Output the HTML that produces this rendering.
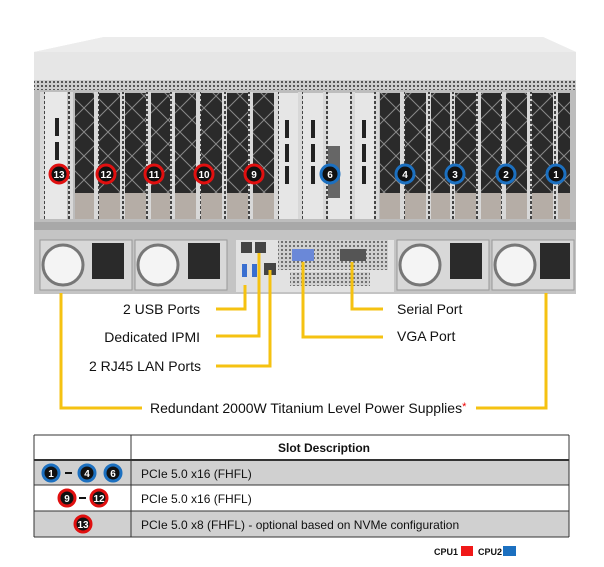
<!DOCTYPE html>
<html><head><meta charset="utf-8"><style>
body{margin:0;width:604px;height:562px;background:#fff;overflow:hidden;font-family:"Liberation Sans",Arial,sans-serif}
</style></head><body>
<svg width="604" height="562" viewBox="0 0 604 562" xmlns="http://www.w3.org/2000/svg" font-family="Liberation Sans, Arial, sans-serif">
<defs>
<pattern id="grill" width="4" height="4" patternUnits="userSpaceOnUse"><rect width="4" height="4" fill="#ccc"/><rect x="1" y="1" width="2" height="2" fill="#555"/></pattern>
<pattern id="rail" width="6" height="5" patternUnits="userSpaceOnUse"><rect width="6" height="5" fill="#d8d8d8"/><rect x="2" y="1" width="2" height="3" fill="#444"/></pattern>
<pattern id="mesh" width="24" height="24" patternUnits="userSpaceOnUse"><rect width="24" height="24" fill="#2a2a2a"/><path d="M0 0L24 24M24 0L0 24" stroke="#888" stroke-width="1"/></pattern>
</defs>
<polygon points="104,37 543,37 576,52 576,80 34,80 34,52" fill="#e6e6e6"/>
<polygon points="104,37 543,37 576,52 34,52" fill="#ececec"/>
<rect x="34" y="80" width="542" height="10" fill="url(#grill)"/>
<rect x="34" y="90" width="542" height="140" fill="#bdbdbd"/>
<g>
<rect x="45" y="92" width="22" height="127" fill="#e8e8e8"/>
<rect x="75" y="93" width="200" height="100" fill="url(#mesh)"/>
<rect x="75" y="193" width="200" height="26" fill="#b5ada6"/>
<rect x="380" y="93" width="190" height="100" fill="url(#mesh)"/>
<rect x="380" y="193" width="190" height="26" fill="#b5ada6"/>
<rect x="278" y="93" width="100" height="126" fill="#e6e6e6"/>
<rect x="326" y="146" width="14" height="52" fill="#666"/>
</g>
<g fill="url(#rail)">
<rect x="40" y="92" width="5" height="127"/><rect x="68" y="92" width="5" height="127"/>
<rect x="94" y="92" width="5" height="127"/><rect x="120" y="92" width="5" height="127"/>
<rect x="146" y="92" width="5" height="127"/><rect x="170" y="92" width="5" height="127"/>
<rect x="196" y="92" width="5" height="127"/><rect x="222" y="92" width="5" height="127"/>
<rect x="248" y="92" width="5" height="127"/><rect x="274" y="92" width="5" height="127"/>
<rect x="298" y="92" width="5" height="127"/><rect x="323" y="92" width="5" height="127"/>
<rect x="350" y="92" width="5" height="127"/><rect x="374" y="92" width="5" height="127"/>
<rect x="400" y="92" width="5" height="127"/><rect x="426" y="92" width="5" height="127"/>
<rect x="450" y="92" width="5" height="127"/><rect x="476" y="92" width="5" height="127"/>
<rect x="501" y="92" width="5" height="127"/><rect x="527" y="92" width="5" height="127"/>
<rect x="553" y="92" width="5" height="127"/>
</g>
<g fill="#222"><rect x="55" y="118" width="4" height="18"/><rect x="55" y="142" width="4" height="18"/>
<rect x="285" y="120" width="4" height="18"/><rect x="285" y="144" width="4" height="18"/><rect x="285" y="166" width="4" height="18"/>
<rect x="311" y="120" width="4" height="18"/><rect x="311" y="144" width="4" height="18"/><rect x="311" y="166" width="4" height="18"/>
<rect x="362" y="120" width="4" height="18"/><rect x="362" y="144" width="4" height="18"/><rect x="362" y="166" width="4" height="18"/></g>
<rect x="34" y="222" width="542" height="8" fill="#a8a8a8"/>
<rect x="34" y="230" width="542" height="64" fill="#c4c4c4"/>
<g>
<rect x="40" y="240" width="92" height="50" fill="#d8d8d8" stroke="#999"/>
<circle cx="63" cy="265" r="20" fill="#f4f4f4" stroke="#777" stroke-width="3"/>
<rect x="92" y="243" width="32" height="36" fill="#2a2a2a"/>
<rect x="135" y="240" width="92" height="50" fill="#d8d8d8" stroke="#999"/>
<circle cx="158" cy="265" r="20" fill="#f4f4f4" stroke="#777" stroke-width="3"/>
<rect x="188" y="243" width="32" height="36" fill="#2a2a2a"/>
<rect x="397" y="240" width="92" height="50" fill="#d8d8d8" stroke="#999"/>
<circle cx="420" cy="265" r="20" fill="#f4f4f4" stroke="#777" stroke-width="3"/>
<rect x="450" y="243" width="32" height="36" fill="#2a2a2a"/>
<rect x="492" y="240" width="82" height="50" fill="#d8d8d8" stroke="#999"/>
<circle cx="515" cy="265" r="20" fill="#f4f4f4" stroke="#777" stroke-width="3"/>
<rect x="540" y="243" width="30" height="36" fill="#2a2a2a"/>
<rect x="236" y="240" width="158" height="52" fill="#e2e2e2"/>
<rect x="241" y="242" width="11" height="11" fill="#444"/><rect x="255" y="242" width="11" height="11" fill="#444"/>
<rect x="264" y="263" width="12" height="12" fill="#444"/>
<rect x="242" y="264" width="5" height="13" fill="#3a6fd0"/><rect x="252" y="264" width="5" height="13" fill="#3a6fd0"/>
<rect x="278" y="240" width="110" height="30" fill="url(#grill)" opacity=".8"/>
<rect x="292" y="249" width="22" height="12" fill="#6a88d8"/>
<rect x="340" y="249" width="26" height="12" fill="#555"/>
<rect x="290" y="272" width="80" height="14" fill="url(#grill)" opacity=".8"/>
</g>
<g stroke="#f5c211" stroke-width="3" fill="none">
<polyline points="61,293 61,408 142,408"/>
<polyline points="476,408 546,408 546,293"/>
<polyline points="245,285 245,309 216,309"/>
<polyline points="259,253 259,336 216,336"/>
<polyline points="270,270 270,366 216,366"/>
<polyline points="303,262 303,337 383,337"/>
<polyline points="352,262 352,309 383,309"/>
</g>
<g font-size="14" fill="#111">
<text x="200" y="314" text-anchor="end">2 USB Ports</text>
<text x="200" y="342" text-anchor="end">Dedicated IPMI</text>
<text x="201" y="371" text-anchor="end">2 RJ45 LAN Ports</text>
<text x="397" y="314">Serial Port</text>
<text x="397" y="341">VGA Port</text>
<text x="150" y="413">Redundant 2000W Titanium Level Power Supplies<tspan fill="#e00" font-size="11" dy="-3">*</tspan></text>
</g>
<g font-size="10" font-weight="bold" fill="#fff" text-anchor="middle" stroke-width="3">
<g stroke="#e01010"><circle cx="59" cy="174" r="9" fill="#111"/><circle cx="106" cy="174" r="9" fill="#111"/><circle cx="154" cy="174" r="9" fill="#111"/><circle cx="204" cy="174" r="9" fill="#111"/><circle cx="254" cy="174" r="9" fill="#111"/></g>
<g stroke="#1c70c0"><circle cx="330" cy="174" r="9" fill="#111"/><circle cx="405" cy="174" r="9" fill="#111"/><circle cx="455" cy="174" r="9" fill="#111"/><circle cx="506" cy="174" r="9" fill="#111"/><circle cx="556" cy="174" r="9" fill="#111"/></g>
<text x="59" y="178">13</text><text x="106" y="178">12</text><text x="154" y="178">11</text><text x="204" y="178">10</text><text x="254" y="178">9</text>
<text x="330" y="178">6</text><text x="405" y="178">4</text><text x="455" y="178">3</text><text x="506" y="178">2</text><text x="556" y="178">1</text>
</g>
<rect x="34" y="435" width="535" height="25" fill="#fff"/>
<rect x="34" y="460" width="535" height="25" fill="#d0d0d0"/>
<rect x="34" y="485" width="535" height="26" fill="#fff"/>
<rect x="34" y="511" width="535" height="26" fill="#d0d0d0"/>
<g stroke="#333" stroke-width="1">
<line x1="34" y1="435" x2="569" y2="435"/><line x1="34" y1="460" x2="569" y2="460" stroke-width="2"/>
<line x1="34" y1="485" x2="569" y2="485"/><line x1="34" y1="511" x2="569" y2="511"/><line x1="34" y1="537" x2="569" y2="537"/>
<line x1="34" y1="435" x2="34" y2="537"/><line x1="569" y1="435" x2="569" y2="537"/><line x1="131" y1="435" x2="131" y2="537"/>
</g>
<text x="324" y="452" font-size="12" font-weight="bold" text-anchor="middle" fill="#111">Slot Description</text>
<g font-size="12" fill="#111"><text x="141" y="478">PCIe 5.0 x16 (FHFL)</text><text x="141" y="503">PCIe 5.0 x16 (FHFL)</text><text x="141" y="529">PCIe 5.0 x8 (FHFL) - optional based on NVMe configuration</text></g>
<g font-size="10" font-weight="bold" fill="#fff" text-anchor="middle" stroke-width="3">
<g stroke="#1c70c0"><circle cx="51" cy="473" r="8" fill="#111"/><circle cx="87" cy="473" r="8" fill="#111"/><circle cx="113" cy="473" r="8" fill="#111"/></g>
<g stroke="#e01010"><circle cx="67" cy="498" r="8" fill="#111"/><circle cx="99" cy="498" r="8" fill="#111"/><circle cx="83" cy="524" r="8" fill="#111"/></g>
<text x="51" y="477">1</text><text x="87" y="477">4</text><text x="113" y="477">6</text>
<text x="67" y="502">9</text><text x="99" y="502">12</text><text x="83" y="528">13</text>
</g>
<rect x="65" y="472" width="7" height="2" fill="#111"/><rect x="79" y="497" width="7" height="2" fill="#111"/>
<g font-size="9" font-weight="bold" fill="#111"><text x="434" y="555">CPU1</text><text x="478" y="555">CPU2</text></g>
<rect x="461" y="546" width="12" height="10" fill="#f01818"/><rect x="503" y="546" width="13" height="10" fill="#1c70c0"/>
</svg>
</body></html>
